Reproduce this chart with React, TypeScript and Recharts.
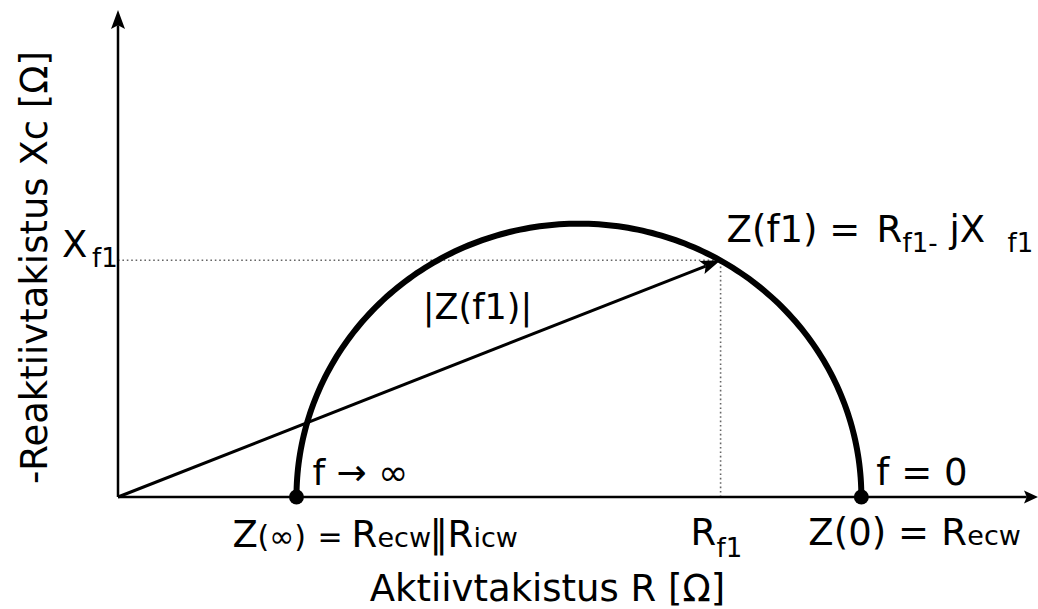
import React from 'react';
import { ComposedChart, Line, XAxis, YAxis, ReferenceLine, ReferenceDot } from 'recharts';

// Equivalent-circuit values, in ohms
const R_INF = 19.4; // Z(∞) = Recw || Ricw
const R_0 = 80.8; // Z(0) = Recw
const R_F1 = 65.5; // resistance at f1
const X_F1 = 26.6; // reactance at f1

// Axis extents
const R_MAX = 100;
const X_MAX = 54.7;

// Impedance locus: semicircle between Z(∞) and Z(0)
const ARC_STEPS = 180;
const arc = Array.from({ length: ARC_STEPS + 1 }, (_, i) => {
  const th = (Math.PI * i) / ARC_STEPS;
  const c = (R_INF + R_0) / 2;
  const r = (R_0 - R_INF) / 2;
  return { re: c + r * Math.cos(th), im: r * Math.sin(th) };
});

const FONT = 'DejaVu Sans';
const BIG = 37;
const SUB = 26;

type Seg = { x1: number; y1: number; x2: number; y2: number };

const arrowShape =
  (len: number, half: number, width: number) =>
  (p: Seg) => {
    const { x1, y1, x2, y2 } = p;
    const dx = x2 - x1;
    const dy = y2 - y1;
    const d = Math.hypot(dx, dy) || 1;
    const ux = dx / d;
    const uy = dy / d;
    const nx = -uy;
    const ny = ux;
    const bx = x2 - ux * len;
    const by = y2 - uy * len;
    const mx = x2 - ux * len * 0.8;
    const my = y2 - uy * len * 0.8;
    return (
      <g>
        <line x1={x1} y1={y1} x2={mx} y2={my} stroke="#000" strokeWidth={width} />
        <polygon
          points={`${x2},${y2} ${bx + nx * half},${by + ny * half} ${mx},${my} ${bx - nx * half},${by - ny * half}`}
          fill="#000"
        />
      </g>
    );
  };

const dottedShape = (p: Seg) => (
  <line
    x1={p.x1}
    y1={p.y1}
    x2={p.x2}
    y2={p.y2}
    stroke="#666"
    strokeWidth={1.6}
    strokeDasharray="1.6 2.8"
  />
);

// Text placed relative to a point in data space
const at =
  (render: (cx: number, cy: number) => React.ReactNode) =>
  (p: { cx: number; cy: number }) =>
    <g>{render(p.cx, p.cy)}</g>;

const txt = { fontFamily: FONT, fill: '#000' } as const;

export default function App() {
  return (
    <div style={{ position: 'absolute', left: 0, top: 0, background: '#fff' }}>
      <ComposedChart
        width={1038}
        height={609}
        margin={{ top: 10, right: 0, left: 118, bottom: 112 }}
        style={{ fontFamily: FONT }}
      >
        <XAxis type="number" dataKey="re" domain={[0, R_MAX]} hide allowDataOverflow />
        <YAxis type="number" domain={[0, X_MAX]} hide allowDataOverflow />

        {/* guide lines to the f1 point */}
        <ReferenceLine
          segment={[{ x: 0, y: X_F1 }, { x: R_F1, y: X_F1 }]}
          shape={dottedShape}
          ifOverflow="visible"
        />
        <ReferenceLine
          segment={[{ x: R_F1, y: 0 }, { x: R_F1, y: X_F1 }]}
          shape={dottedShape}
          ifOverflow="visible"
        />

        {/* axes */}
        <ReferenceLine
          segment={[{ x: 0, y: 0 }, { x: R_MAX, y: 0 }]}
          shape={arrowShape(14, 6.5, 2.5)}
          ifOverflow="visible"
        />
        <ReferenceLine
          segment={[{ x: 0, y: 0 }, { x: 0, y: X_MAX }]}
          shape={arrowShape(19, 7, 2.5)}
          ifOverflow="visible"
        />

        {/* semicircle */}
        <Line
          data={arc}
          dataKey="im"
          type="linear"
          stroke="#000"
          strokeWidth={6}
          dot={false}
          activeDot={false}
          isAnimationActive={false}
        />

        {/* impedance vector |Z(f1)| */}
        <ReferenceLine
          segment={[{ x: 0, y: 0 }, { x: R_F1, y: X_F1 }]}
          shape={arrowShape(20, 7, 3)}
          ifOverflow="visible"
        />

        {/* end points */}
        <ReferenceDot x={R_INF} y={0} r={7.5} fill="#000" stroke="none" ifOverflow="visible" />
        <ReferenceDot x={R_0} y={0} r={7.5} fill="#000" stroke="none" ifOverflow="visible" />

        {/* axis titles */}
        <ReferenceDot
          x={0}
          y={0}
          r={0}
          ifOverflow="visible"
          shape={at((cx, cy) => (
            <>
              <text x={cx + 429.5} y={cy + 104} textAnchor="middle" fontSize={BIG} {...txt}>
                Aktiivtakistus R [Ω]
              </text>
              <text
                x={cx - 71}
                y={cy - 229.5}
                textAnchor="middle"
                fontSize={BIG}
                transform={`rotate(-90 ${cx - 71} ${cy - 229.5})`}
                {...txt}
              >
                -Reaktiivtakistus Xc [Ω]
              </text>
            </>
          ))}
        />

        {/* X_f1 */}
        <ReferenceDot
          x={0}
          y={X_F1}
          r={0}
          ifOverflow="visible"
          shape={at((cx, cy) => (
            <text {...txt}>
              <tspan x={cx - 56} y={cy - 3} fontSize={BIG}>X</tspan>
              <tspan x={cx - 26} y={cy + 7} fontSize={SUB}>f1</tspan>
            </text>
          ))}
        />

        {/* R_f1 */}
        <ReferenceDot
          x={R_F1}
          y={0}
          r={0}
          ifOverflow="visible"
          shape={at((cx, cy) => (
            <text {...txt}>
              <tspan x={cx - 30} y={cy + 48} fontSize={BIG}>R</tspan>
              <tspan x={cx - 4} y={cy + 60} fontSize={SUB}>f1</tspan>
            </text>
          ))}
        />

        {/* high-frequency end */}
        <ReferenceDot
          x={R_INF}
          y={0}
          r={0}
          ifOverflow="visible"
          shape={at((cx, cy) => (
            <>
              <text x={cx + 16} y={cy - 12} fontSize={36} {...txt}>
                f → ∞
              </text>
              <text {...txt}>
                <tspan x={cx - 64} y={cy + 50} fontSize={BIG}>Z</tspan>
                <tspan x={cx - 39} y={cy + 50} fontSize={30}>(∞)</tspan>
                <tspan x={cx + 21} y={cy + 50} fontSize={30}>=</tspan>
                <tspan x={cx + 55} y={cy + 50} fontSize={BIG}>R</tspan>
                <tspan x={cx + 81} y={cy + 50} fontSize={27}>ecw</tspan>
                <tspan x={cx + 133} y={cy + 50} fontSize={BIG}>‖</tspan>
                <tspan x={cx + 151} y={cy + 50} fontSize={BIG}>R</tspan>
                <tspan x={cx + 177} y={cy + 50} fontSize={27}>icw</tspan>
              </text>
            </>
          ))}
        />

        {/* low-frequency end */}
        <ReferenceDot
          x={R_0}
          y={0}
          r={0}
          ifOverflow="visible"
          shape={at((cx, cy) => (
            <>
              <text x={cx + 15} y={cy - 12} fontSize={BIG} {...txt}>
                f = 0
              </text>
              <text {...txt}>
                <tspan x={cx - 53} y={cy + 48} fontSize={BIG}>Z(0) = </tspan>
                <tspan x={cx + 80} y={cy + 48} fontSize={BIG}>R</tspan>
                <tspan x={cx + 106} y={cy + 48} fontSize={27}>ecw</tspan>
              </text>
            </>
          ))}
        />

        {/* Z(f1) */}
        <ReferenceDot
          x={R_F1}
          y={X_F1}
          r={0}
          ifOverflow="visible"
          shape={at((cx, cy) => (
            <text {...txt}>
              <tspan x={cx + 6} y={cy - 18} fontSize={BIG}>Z(f1) = </tspan>
              <tspan x={cx + 156} y={cy - 18} fontSize={BIG}>R</tspan>
              <tspan x={cx + 182} y={cy - 8} fontSize={SUB}>f1-</tspan>
              <tspan x={cx + 229} y={cy - 18} fontSize={BIG}>jX</tspan>
              <tspan x={cx + 287} y={cy - 8} fontSize={SUB}>f1</tspan>
            </text>
          ))}
        />

        {/* |Z(f1)| */}
        <ReferenceDot
          x={R_F1 / 2}
          y={X_F1 / 2}
          r={0}
          ifOverflow="visible"
          shape={at((cx, cy) => (
            <text x={cx + 3.5} y={cy - 60} fontSize={35} {...txt}>
              |Z(f1)|
            </text>
          ))}
        />
      </ComposedChart>
    </div>
  );
}
